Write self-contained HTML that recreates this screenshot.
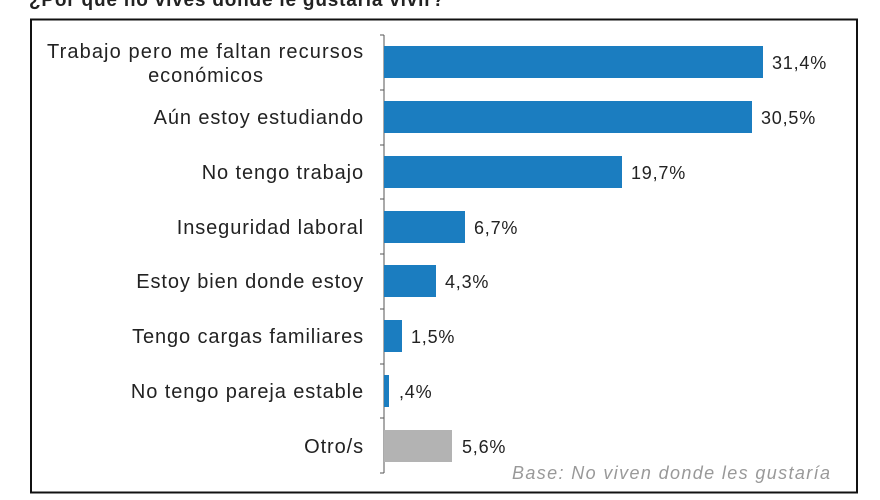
<!DOCTYPE html>
<html><head><meta charset="utf-8"><style>
body{margin:0;width:880px;height:495px;background:#fff;overflow:hidden;font-family:"Liberation Sans",sans-serif;}
</style></head><body>
<svg width="880" height="495" xmlns="http://www.w3.org/2000/svg" font-family="Liberation Sans, sans-serif">
<text x="29" y="6" font-size="19" font-weight="bold" fill="#222" letter-spacing="0.8">¿Por qué no vives donde le gustaría vivir?</text>
<rect x="31" y="19.5" width="826" height="473" fill="#fff" stroke="#111" stroke-width="2"/>
<line x1="384" y1="35" x2="384" y2="473" stroke="#555" stroke-width="1"/>
<g stroke="#555">
<line x1="380" y1="35" x2="384" y2="35"/><line x1="380" y1="90" x2="384" y2="90"/><line x1="380" y1="145" x2="384" y2="145"/><line x1="380" y1="199" x2="384" y2="199"/><line x1="380" y1="254" x2="384" y2="254"/><line x1="380" y1="309" x2="384" y2="309"/><line x1="380" y1="364" x2="384" y2="364"/><line x1="380" y1="418" x2="384" y2="418"/><line x1="380" y1="473" x2="384" y2="473"/>
</g>
<g fill="#1b7dc0">
<rect x="384" y="46" width="379" height="32"/>
<rect x="384" y="101" width="368" height="32"/>
<rect x="384" y="156" width="238" height="32"/>
<rect x="384" y="211" width="81" height="32"/>
<rect x="384" y="265" width="52" height="32"/>
<rect x="384" y="320" width="18" height="32"/>
<rect x="384" y="375" width="5" height="32"/>
</g>
<rect x="384" y="430" width="68" height="32" fill="#b3b3b3"/>
<g font-size="20" fill="#222" letter-spacing="0.9">
<text x="47" y="58" textLength="317">Trabajo pero me faltan recursos</text>
<text x="206" y="82" text-anchor="middle">económicos</text>
<g text-anchor="end">
<text x="364" y="124">Aún estoy estudiando</text>
<text x="364" y="179">No tengo trabajo</text>
<text x="364" y="234">Inseguridad laboral</text>
<text x="364" y="288">Estoy bien donde estoy</text>
<text x="364" y="343">Tengo cargas familiares</text>
<text x="364" y="398">No tengo pareja estable</text>
<text x="364" y="453">Otro/s</text>
</g>
</g>
<g font-size="18" fill="#222" letter-spacing="0.8">
<text x="772" y="69">31,4%</text>
<text x="761" y="124">30,5%</text>
<text x="631" y="179">19,7%</text>
<text x="474" y="234">6,7%</text>
<text x="445" y="288">4,3%</text>
<text x="411" y="343">1,5%</text>
<text x="399" y="398">,4%</text>
<text x="462" y="453">5,6%</text>
</g>
<text x="512" y="479" font-size="18" font-style="italic" fill="#999" textLength="318">Base: No viven donde les gustaría</text>
</svg>
</body></html>
